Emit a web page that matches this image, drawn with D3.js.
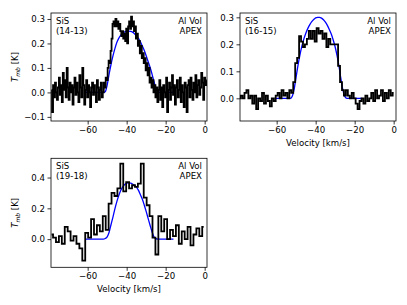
<!DOCTYPE html>
<html><head><meta charset="utf-8">
<script src="https://cdn.jsdelivr.net/npm/d3@7"></script>
<style>body{margin:0;background:#fff} text{font-family:"DejaVu Sans",sans-serif;fill:#000}</style>
</head><body>
<svg id="c" width="407" height="305"></svg>
<script>
// Channel grids (start velocity, channel width in km/s)
const velStart = [-78.5, -79, -78.5];
const velStep = [0.5, 1, 1.5];

// SiS (14-13) spectrum, Tmb [K]
const tmb14 = [
 0.01,-0.08,0.03,-0.02,0.04,0.0,-0.03,0.02,0.06,-0.01,
 0.03,-0.04,0.08,0.01,0.05,-0.02,0.10,0.02,-0.03,0.04,
 0.0,0.03,-0.05,0.02,0.06,-0.01,0.04,0.0,-0.04,0.07,
 0.02,-0.02,0.10,0.03,-0.05,0.01,0.05,-0.02,0.03,0.0,
 -0.06,0.02,0.04,-0.01,0.03,0.0,-0.04,0.05,0.02,-0.03,
 0.01,0.04,-0.02,
 0.00,0.04,0.02,0.06,0.05,0.10,0.13,0.12,0.17,0.22,
 0.28,0.29,0.27,0.30,0.27,0.29,0.26,0.28,0.25,0.23,
 0.25,0.22,0.24,0.21,0.26,0.20,0.27,0.29,0.26,0.31,
 0.27,0.29,0.25,0.27,0.22,0.24,0.19,0.21,0.16,0.19,
 0.14,0.16,0.12,0.14,0.09,0.12,0.07,0.10,0.04,0.06,
 0.02,0.05,0.0,0.03,-0.02,0.02,
 -0.04,0.01,0.05,-0.03,0.02,-0.06,0.03,0.0,-0.02,0.06,
 -0.08,0.01,0.04,-0.03,0.02,0.07,-0.01,0.03,-0.05,0.02,
 0.05,-0.02,0.01,0.06,-0.04,0.03,0.0,-0.06,0.04,0.02,
 -0.08,0.03,0.05,-0.02,0.06,0.01,-0.03,0.04,0.0,0.07,
 -0.02,0.03,0.05,-0.01,0.02,0.08,0.04,-0.03,0.06,0.03,0.05
];
// SiS (16-15) spectrum, Tmb [K]
const tmb16 = [
 0.0,0.01,0.0,0.02,0.03,0.0,0.01,-0.02,0.01,-0.04,
 0.0,-0.01,0.02,-0.02,0.01,-0.01,-0.03,0.0,-0.01,0.01,
 0.02,0.0,0.03,0.01,0.02,0.0,0.03,0.02,0.06,0.13,
 0.15,0.23,0.21,0.19,0.20,0.22,0.25,0.22,0.25,0.21,
 0.26,0.24,0.25,0.22,0.24,0.19,0.22,0.20,0.20,0.20,
 0.20,0.12,0.06,0.03,0.01,0.03,0.01,0.0,0.02,0.0,
 -0.02,-0.04,-0.01,0.0,-0.02,0.01,-0.01,0.0,0.02,-0.01,
 0.03,0.0,0.01,0.03,-0.01,0.02,0.0,0.03,0.01,0.02
];
// SiS (19-18) spectrum, Tmb [K]
const tmb19 = [
 0.03,0.01,-0.02,0.02,-0.03,0.08,0.05,-0.01,0.02,-0.03,
 -0.06,-0.14,0.04,0.01,0.13,0.03,0.09,0.05,0.15,0.06,
 0.23,0.30,0.28,0.33,0.49,0.31,0.37,0.33,0.35,0.34,
 0.36,0.49,0.27,0.22,0.15,0.01,-0.10,0.15,0.05,0.13,
 0.0,0.06,0.02,0.09,-0.03,0.05,0.0,0.08,-0.04,0.03,
 0.07,0.02,0.08
];

// Fitted profiles
const fitVel = [-61,-60,-59,-58,-57,-56,-55,-54,-53,-52,-51,-50,-49,-48,-47,-46,-45,-44,-43,-42,-41,-40,-39,-38,-37,-36,-35,-34,-33,-32,-31,-30,-29,-28,-27,-26,-25,-24,-23,-22,-21,-20,-19,-18,-17,-16];
const fit14 = [0,0,0,0,0,0,0,0,0,0,0.003,0.03,0.075,0.115,0.15,0.18,0.205,0.222,0.234,0.242,0.247,0.25,0.25,0.249,0.246,0.24,0.232,0.222,0.208,0.19,0.172,0.15,0.126,0.103,0.075,0.045,0.015,0.003,0,0,0,0,0,0,0,0];
const fit16 = [0,0,0,0,0,0,0,0,0,0.008,0.035,0.08,0.125,0.163,0.195,0.221,0.242,0.259,0.273,0.284,0.292,0.298,0.300,0.300,0.297,0.291,0.282,0.27,0.255,0.238,0.216,0.19,0.157,0.117,0.07,0.03,0.006,0,0,0,0,0,0,0,0,0];
const fit19 = [0,0,0,0,0,0,0,0,0,0,0.004,0.015,0.045,0.095,0.145,0.198,0.245,0.285,0.318,0.340,0.355,0.363,0.366,0.364,0.358,0.350,0.338,0.318,0.29,0.26,0.222,0.18,0.135,0.09,0.048,0.015,0.003,0,0,0,0,0,0,0,0,0];

const lineLabels = ["(14-13)", "(16-15)", "(19-18)"];
const xTicks = [-60, -40, -20, 0];
const yTickSets = [[-0.1, 0, 0.1, 0.2, 0.3], [0, 0.1, 0.2, 0.3], [0, 0.2, 0.4]];
const xDomain = [-78.8, 1.2];
const yDomains = [[-0.1168, 0.3244], [-0.084, 0.316], [-0.183, 0.525]];

const frames = [
  {x: 51, y: 13, w: 156, h: 108, ylab: true, xlab: false},
  {x: 240, y: 13, w: 156, h: 108, ylab: false, xlab: true},
  {x: 51, y: 158.3, w: 156, h: 109, ylab: true, xlab: true}
];
const spectra = [tmb14, tmb16, tmb19];
const fits = [fit14, fit16, fit19];

const svg = d3.select("#c");
const fs = 8.6;

frames.forEach((f, k) => {
  const g = svg.append("g").attr("transform", `translate(${f.x},${f.y})`);
  const x = d3.scaleLinear().domain(xDomain).range([0, f.w]);
  const y = d3.scaleLinear().domain(yDomains[k]).range([f.h, 0]);
  const clipId = "clip" + k;
  g.append("clipPath").attr("id", clipId).append("rect").attr("width", f.w).attr("height", f.h);

  const spec = spectra[k].map((t, i) => [velStart[k] + i * velStep[k], t]);
  const fit = fits[k].map((t, i) => [fitVel[i], t]);

  const plot = g.append("g").attr("clip-path", `url(#${clipId})`);
  plot.append("path").datum(fit)
    .attr("d", d3.line().x(d => x(d[0])).y(d => y(d[1])).curve(d3.curveMonotoneX))
    .attr("fill", "none").attr("stroke", "#0000ff").attr("stroke-width", 1.3);
  plot.append("path").datum(spec)
    .attr("d", d3.line().x(d => x(d[0])).y(d => y(d[1])).curve(d3.curveStep))
    .attr("fill", "none").attr("stroke", "#000").attr("stroke-width", 1.8)
    .attr("stroke-linejoin", "miter");

  const xa = g.append("g").attr("transform", `translate(0,${f.h})`)
    .call(d3.axisBottom(x).tickValues(xTicks).tickFormat(d3.format("d")).tickSize(3.5).tickPadding(2.5));
  const ya = g.append("g")
    .call(d3.axisLeft(y).tickValues(yTickSets[k]).tickFormat(d3.format(".1f")).tickSize(3.5).tickPadding(2.5));
  [xa, ya].forEach(a => {
    a.select(".domain").remove();
    a.selectAll("line").attr("stroke", "#000").attr("stroke-width", 0.8);
    a.selectAll("text").attr("font-size", fs).attr("font-family", "DejaVu Sans").attr("fill", "#000");
  });

  g.append("rect").attr("width", f.w).attr("height", f.h)
    .attr("fill", "none").attr("stroke", "#000").attr("stroke-width", 0.8);

  g.append("text").attr("x", 5).attr("y", 11).attr("font-size", fs).text("SiS");
  g.append("text").attr("x", 5).attr("y", 21).attr("font-size", fs).text(lineLabels[k]);
  g.append("text").attr("x", f.w - 5).attr("y", 11).attr("font-size", fs).attr("text-anchor", "end").text("Al Vol");
  g.append("text").attr("x", f.w - 5).attr("y", 21).attr("font-size", fs).attr("text-anchor", "end").text("APEX");

  if (f.xlab) {
    g.append("text").attr("x", f.w / 2).attr("y", f.h + 25).attr("font-size", fs)
      .attr("text-anchor", "middle").text("Velocity [km/s]");
  }
  if (f.ylab) {
    const t = g.append("text").attr("transform", `translate(${18 - f.x},${f.h / 2}) rotate(-90)`)
      .attr("font-size", fs).attr("text-anchor", "middle");
    t.append("tspan").attr("font-style", "italic").text("T");
    t.append("tspan").attr("font-style", "italic").attr("font-size", fs * 0.7).attr("dy", 2).text("mb");
    t.append("tspan").attr("dy", -2).text(" [K]");
  }
});
</script>
</body></html>
